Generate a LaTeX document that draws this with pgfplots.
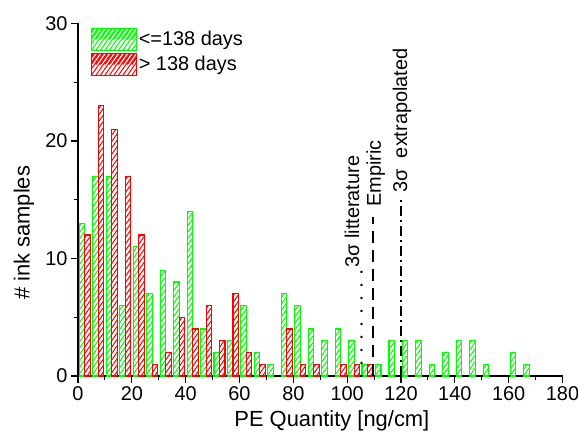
\documentclass[border=0pt]{standalone}
\usepackage{pgfplots}
\pgfplotsset{compat=1.18}
\usepackage{fontspec}
\setmainfont{Liberation Sans}
\definecolor{hgreen}{RGB}{0,255,0}
\definecolor{hred}{RGB}{255,0,0}
\tikzset{
 hatch/.style={path picture={%
   \pgfsetcolor{#1}\pgfsetlinewidth{1bp}\pgfsetdash{}{0pt}%
   \foreach \k in {-44,...,103}{%
     \pgfpathmoveto{\pgfpointadd{\pgfplotspointaxisxy{0}{0}}{\pgfpoint{\k*4.5bp}{0bp}}}%
     \pgfpathlineto{\pgfpointadd{\pgfplotspointaxisxy{0}{0}}{\pgfpoint{\k*4.5bp+197.9bp}{282.6bp}}}%
     \pgfusepath{stroke}%
   }}}
}
\newcommand{\hatchlegend}[1]{%
  \begin{scope}
  \clip (0bp,-11bp) rectangle (45bp,11bp);
  \foreach \k in {-5,...,10}{\draw[#1, line width=1bp] (\k*4.5bp,-11bp) -- ++(55:40bp);}
  \end{scope}
  \draw[#1, line width=1.1bp] (0bp,-11bp) rectangle (45bp,11bp);}
\begin{document}
\begin{tikzpicture}
\path[use as bounding box] (-78bp,-58bp) rectangle (500bp,376bp);
\begin{axis}[
 at={(0,0)}, anchor=south west, scale only axis,
 width=484.5bp, height=352.5bp,
 xmin=0, xmax=180, ymin=0, ymax=30,
 axis x line*=bottom, axis y line*=left,
 xtick={0,20,...,180}, ytick={0,10,20,30},
 minor x tick num=1, minor y tick num=1,
 tick align=outside,
 major tick length=7bp, minor tick length=4bp,
 tick style={black, line width=1.1bp},
 axis line style={black, line width=1.2bp},
 /pgf/number format/assume math mode=true,
 tick label style={font=\fontsize{20}{24}\selectfont},
 label style={font=\fontsize{22}{26}\selectfont},
 xlabel={PE Quantity [ng/cm]},
 ylabel={\# ink samples},
 xlabel style={at={(axis description cs:0.524,-0.128)}, anchor=center},
 ylabel style={at={(axis description cs:-0.1115,0.406)}, anchor=center},
 bar width=2.05,
 legend style={draw=none, fill=none, at={(axis description cs:0.026,0.988)}, anchor=north west, font=\fontsize{20}{24}\selectfont, inner sep=0pt, row sep=2bp},
 legend cell align=left,
]
\addplot[ybar, bar shift=0pt, draw=hgreen, line width=1.1bp, hatch=hgreen,
 legend image code/.code={\hatchlegend{hgreen}}] coordinates {
(1.55,13) (6.55,17) (11.55,17) (16.55,6) (21.55,11) (26.55,7) (31.55,9) (36.55,8) (41.55,14) (46.55,4)
(51.55,2) (56.55,3) (61.55,6) (66.55,2) (71.55,1) (76.55,7) (81.55,6) (86.55,4) (91.55,3) (96.55,4)
(101.55,3) (106.55,1) (111.55,1) (116.55,3) (121.55,3) (126.55,3) (131.55,1) (136.55,2) (141.55,3) (146.55,3)
(151.55,1) (161.55,2) (166.55,1)};
\addplot[ybar, bar shift=0pt, draw=hred, line width=1.1bp, hatch=hred,
 legend image code/.code={\hatchlegend{hred}}] coordinates {
(3.6,12) (8.6,23) (13.6,21) (18.6,17) (23.6,12) (28.6,1) (33.6,2) (38.6,5) (43.6,4) (48.6,6)
(53.6,3) (58.6,7) (63.6,2) (68.6,1) (78.6,4) (83.6,1) (88.6,1) (98.6,1) (103.6,1) (108.6,1)};
\addplot[black, line width=2.5bp, line cap=round, dash pattern=on 0.01bp off 13bp, forget plot] coordinates {(105.4,0) (105.4,8.9)};
\addplot[black, line width=2.3bp, dash pattern=on 12bp off 7bp, forget plot] coordinates {(109.7,0) (109.7,13.55)};
\addplot[black, line width=2.2bp, dash pattern=on 10bp off 4bp on 2bp off 4bp, forget plot] coordinates {(120,0) (120,15)};
\node[rotate=90, anchor=west, inner sep=0pt, font=\fontsize{20}{24}\selectfont] at (axis cs:101.8,9.2) {3σ litterature};
\node[rotate=90, anchor=west, inner sep=0pt, font=\fontsize{20}{24}\selectfont] at (axis cs:110.6,14.4) {Empiric};
\node[rotate=90, anchor=west, inner sep=0pt, font=\fontsize{20}{24}\selectfont] at (axis cs:120.4,15.6) {3σ\ \ extrapolated};
\legend{{<=138 days},{> 138 days}}
\end{axis}
\end{tikzpicture}
\end{document}
